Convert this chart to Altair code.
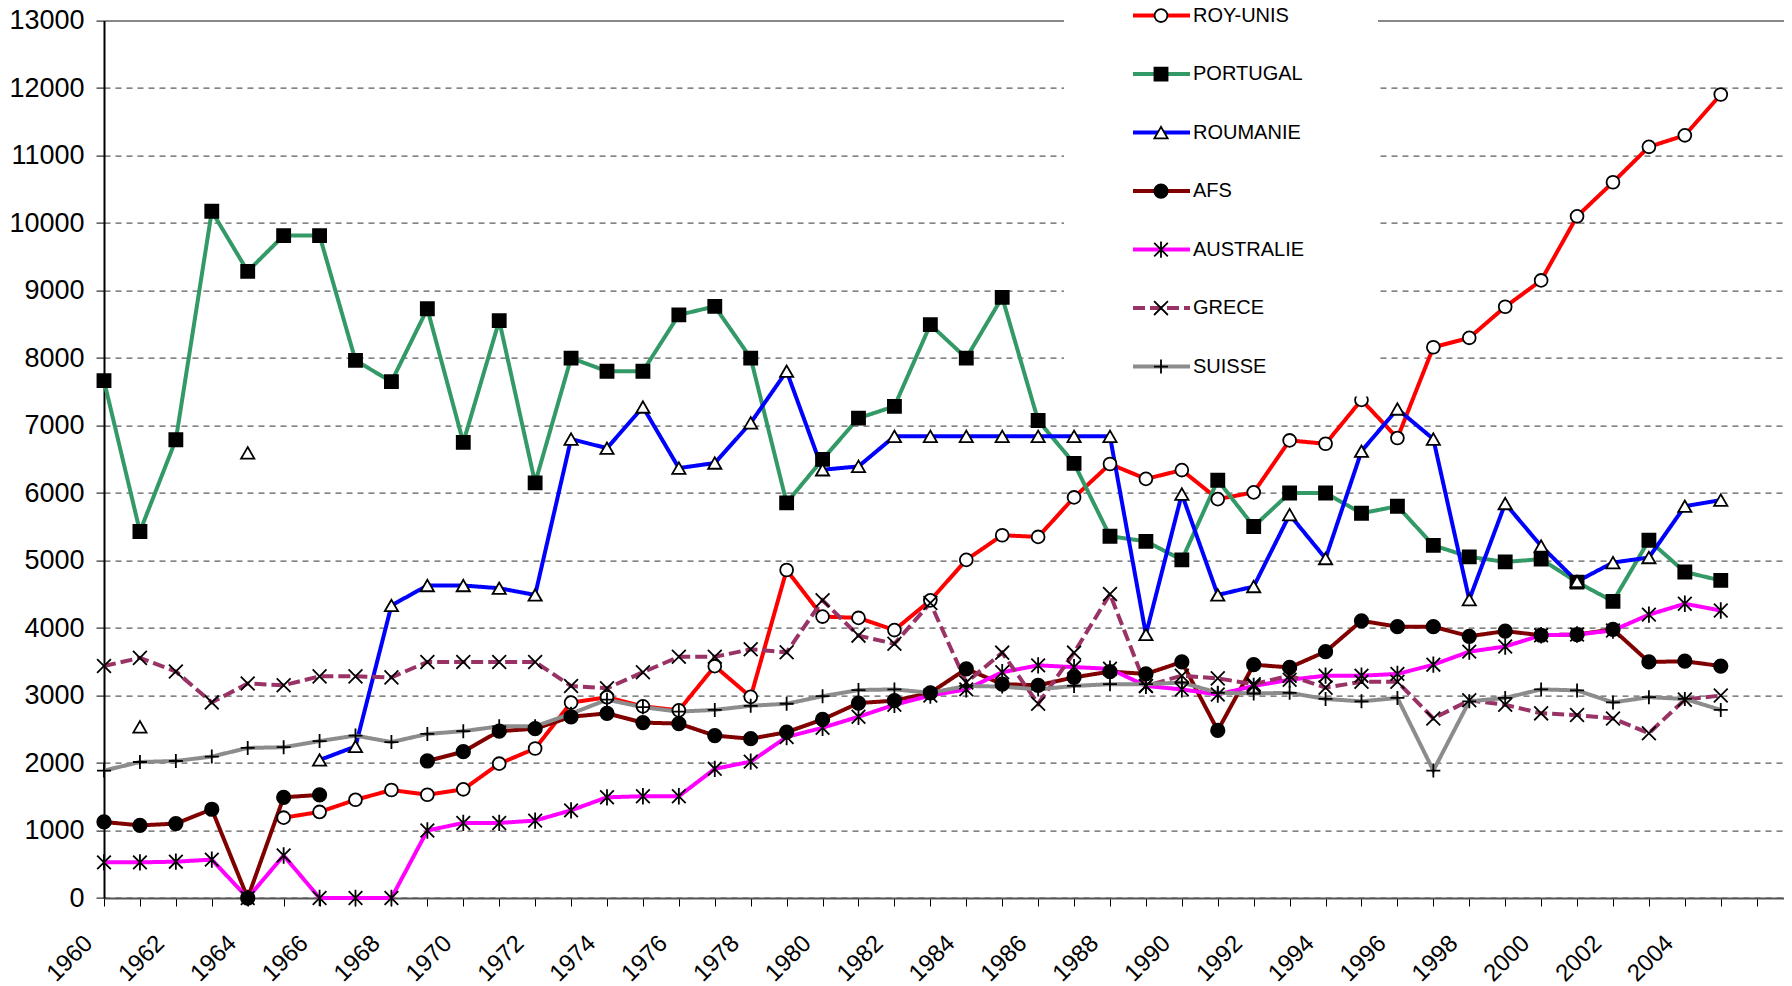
import altair as alt
import pandas as pd

years = list(range(1960, 2006))
countries = ["ROY-UNIS", "PORTUGAL", "ROUMANIE", "AFS", "AUSTRALIE", "GRECE", "SUISSE"]

roy_unis = [None, None, None, None, None, 1190, 1275, 1455, 1600, 1530,
            1610, 1990, 2215, 2895, 2975, 2840, 2780, 3435, 2980, 4860,
            4170, 4150, 3970, 4410, 5010, 5375, 5350, 5935, 6430, 6210,
            6340, 5910, 6010, 6780, 6730, 7380, 6815, 8160, 8300, 8760,
            9150, 10100, 10605, 11130, 11300, 11905]
portugal = [7665, 5430, 6790, 10175, 9285, 9815, 9815, 7965, 7650, 8730,
            6750, 8555, 6150, 8000, 7805, 7805, 8640, 8765, 8000, 5855,
            6500, 7110, 7285, 8495, 8000, 8900, 7075, 6440, 5360, 5285,
            5010, 6190, 5505, 6000, 6000, 5700, 5805, 5225, 5055, 4980,
            5020, 4680, 4395, 5300, 4830, 4705]
roumanie = [None, 2535, None, None, 6595, None, 2045, 2245, 4335, 4630,
            4630, 4590, 4490, 6800, 6665, 7275, 6370, 6445, 7040, 7805,
            6345, 6395, 6840, 6840, 6840, 6840, 6840, 6840, 6840, 3905,
            5985, 4490, 4615, 5680, 5030, 6620, 7245, 6800, 4420, 5845,
            5215, 4690, 4970, 5045, 5805, 5895]
afs = [1127, 1076, 1102, 1315, 0, 1492, 1528, None, None, 2030,
       2168, 2472, 2508, 2685, 2736, 2599, 2584, 2406, 2360, 2457,
       2645, 2888, 2924, 3040, 3396, 3168, 3152, 3269, 3355, 3320,
       3497, 2482, 3457, 3416, 3650, 4107, 4020, 4020, 3878, 3954,
       3893, 3904, 3980, 3497, 3508, 3437]
australie = [528, 528, 538, 569, 0, 629, 0, 0, 0, 1000,
             1112, 1112, 1147, 1299, 1492, 1508, 1508, 1914, 2020, 2386,
             2523, 2685, 2863, 3000, 3091, 3345, 3447, 3421, 3396, 3142,
             3091, 3015, 3142, 3233, 3294, 3294, 3320, 3457, 3650, 3726,
             3893, 3904, 3964, 4198, 4360, 4259]
grece = [3437, 3558, 3355, 2898, 3178, 3152, 3284, 3284, 3269, 3497,
         3497, 3497, 3497, 3142, 3107, 3345, 3574, 3574, 3685, 3640,
         4411, 3888, 3766, 4371, 3193, 3635, 2878, 3635, 4503, 3142,
         3294, 3254, 3168, 3294, 3117, 3203, 3203, 2660, 2929, 2863,
         2736, 2711, 2660, 2442, 2939, 3000]
suisse = [1888, 2015, 2030, 2096, 2223, 2234, 2325, 2406, 2310, 2431,
          2472, 2543, 2543, 2730, 2939, 2827, 2761, 2787, 2848, 2878,
          2990, 3081, 3091, 3040, 3142, 3132, 3091, 3142, 3168, 3168,
          3193, 3040, 3030, 3040, 2949, 2914, 2964, 1888, 2914, 2964,
          3091, 3076, 2898, 2975, 2949, 2787]

series = [roy_unis, portugal, roumanie, afs, australie, grece, suisse]

colors = ["#FF0000", "#339966", "#0000FF", "#800000", "#FF00FF", "#993366", "#8C8C8C"]
shapes = ["circle", "square", "triangle-up", "circle",
          "M-1,-1L1,1M-1,1L1,-1M0,-1.2L0,1.2",
          "M-1,-1L1,1M-1,1L1,-1",
          "M-1,0L1,0M0,-1L0,1"]
fills = ["white", "black", "white", "black", "white", "white", "white"]
sizes = [165, 196, 185, 205, 165, 165, 200]
dashes = [[1, 0], [1, 0], [1, 0], [1, 0], [1, 0], [12, 5], [1, 0]]

rows = []
for name, vals in zip(countries, series):
    for yr, v in zip(years, vals):
        rows.append({"year": yr, "value": v, "country": name})
df = pd.DataFrame(rows)
legend_df = pd.DataFrame({"country": countries})

FONT = "Liberation Sans"

x_enc = alt.X(
    "year:Q",
    scale=alt.Scale(domain=[1960, 2006.76], nice=False, zero=False),
    axis=alt.Axis(
        values=list(range(1960, 2007)),
        labelExpr="(datum.value % 2 == 0 && datum.value <= 2004) ? datum.value : ''",
        labelAngle=-45, labelAlign="right", labelBaseline="top",
        labelFontSize=24, labelPadding=25, labelOffset=-24,
        labelOverlap=False, labelFlush=False,
        grid=False, tickSize=8, tickColor="black", tickWidth=1,
        domainColor="#555555", domainWidth=2, title=None,
    ),
)
y_enc = alt.Y(
    "value:Q",
    scale=alt.Scale(domain=[0, 13000], nice=False),
    axis=alt.Axis(
        values=list(range(0, 13001, 1000)), format="d",
        labelFontSize=27, labelPadding=12,
        grid=True,
        gridDash={"condition": {"test": "datum.value == 13000", "value": []}, "value": [6, 5]},
        gridColor={"condition": {"test": "datum.value == 13000", "value": "#888888"}, "value": "#333333"},
        gridWidth={"condition": {"test": "datum.value == 13000", "value": 2}, "value": 1},
        tickSize=8, tickColor="black", domainColor="black", domainWidth=2, title=None,
    ),
)
color_enc = alt.Color("country:N", scale=alt.Scale(domain=countries, range=colors), legend=None)
shape_enc = alt.Shape("country:N", scale=alt.Scale(domain=countries, range=shapes), legend=None)
fill_enc = alt.Fill("country:N", scale=alt.Scale(domain=countries, range=fills), legend=None)
size_enc = alt.Size("country:N", scale=alt.Scale(domain=countries, range=sizes), legend=None)
dash_enc = alt.StrokeDash("country:N", scale=alt.Scale(domain=countries, range=dashes), legend=None)

base = alt.Chart(df)
lines = base.mark_line(strokeWidth=4).encode(x=x_enc, y=y_enc, color=color_enc, strokeDash=dash_enc)
points = base.mark_point(stroke="black", strokeWidth=1.8, opacity=1).encode(
    x=x_enc, y=y_enc, shape=shape_enc, fill=fill_enc, size=size_enc
)

ly = alt.Y("country:N", scale=alt.Scale(type="point", domain=countries, range=[-5, 346], padding=0), axis=None)
box = alt.Chart(pd.DataFrame({"k": [0]})).mark_rect(color="white").encode(
    x=alt.value(960), x2=alt.value(1274), y=alt.value(-13), y2=alt.value(376)
)
leg_line = alt.Chart(legend_df).mark_rule(strokeWidth=4).encode(
    x=alt.value(1029), x2=alt.value(1086), y=ly, color=color_enc, strokeDash=dash_enc
)
leg_pt = alt.Chart(legend_df).mark_point(stroke="black", strokeWidth=1.8, opacity=1).encode(
    x=alt.value(1057), y=ly, shape=shape_enc, fill=fill_enc, size=size_enc
)
leg_txt = alt.Chart(legend_df).mark_text(align="left", baseline="middle", fontSize=20, font=FONT, color="black").encode(
    x=alt.value(1089), y=ly, text="country:N"
)

main = alt.layer(lines, points)
legend = alt.layer(box, leg_line, leg_pt, leg_txt)

chart = (
    alt.layer(main, legend)
    .resolve_scale(y="independent")
    .properties(
        width=1680, height=877.4,
        autosize=alt.AutoSizeParams(type="none"),
        padding={"left": 96, "top": 12.6, "right": 0, "bottom": 84},
    )
    .configure_view(stroke=None)
    .configure_axis(labelFont=FONT, labelColor="black")
)

chart.save("out.html", embed_options={"renderer": "svg", "actions": False})
